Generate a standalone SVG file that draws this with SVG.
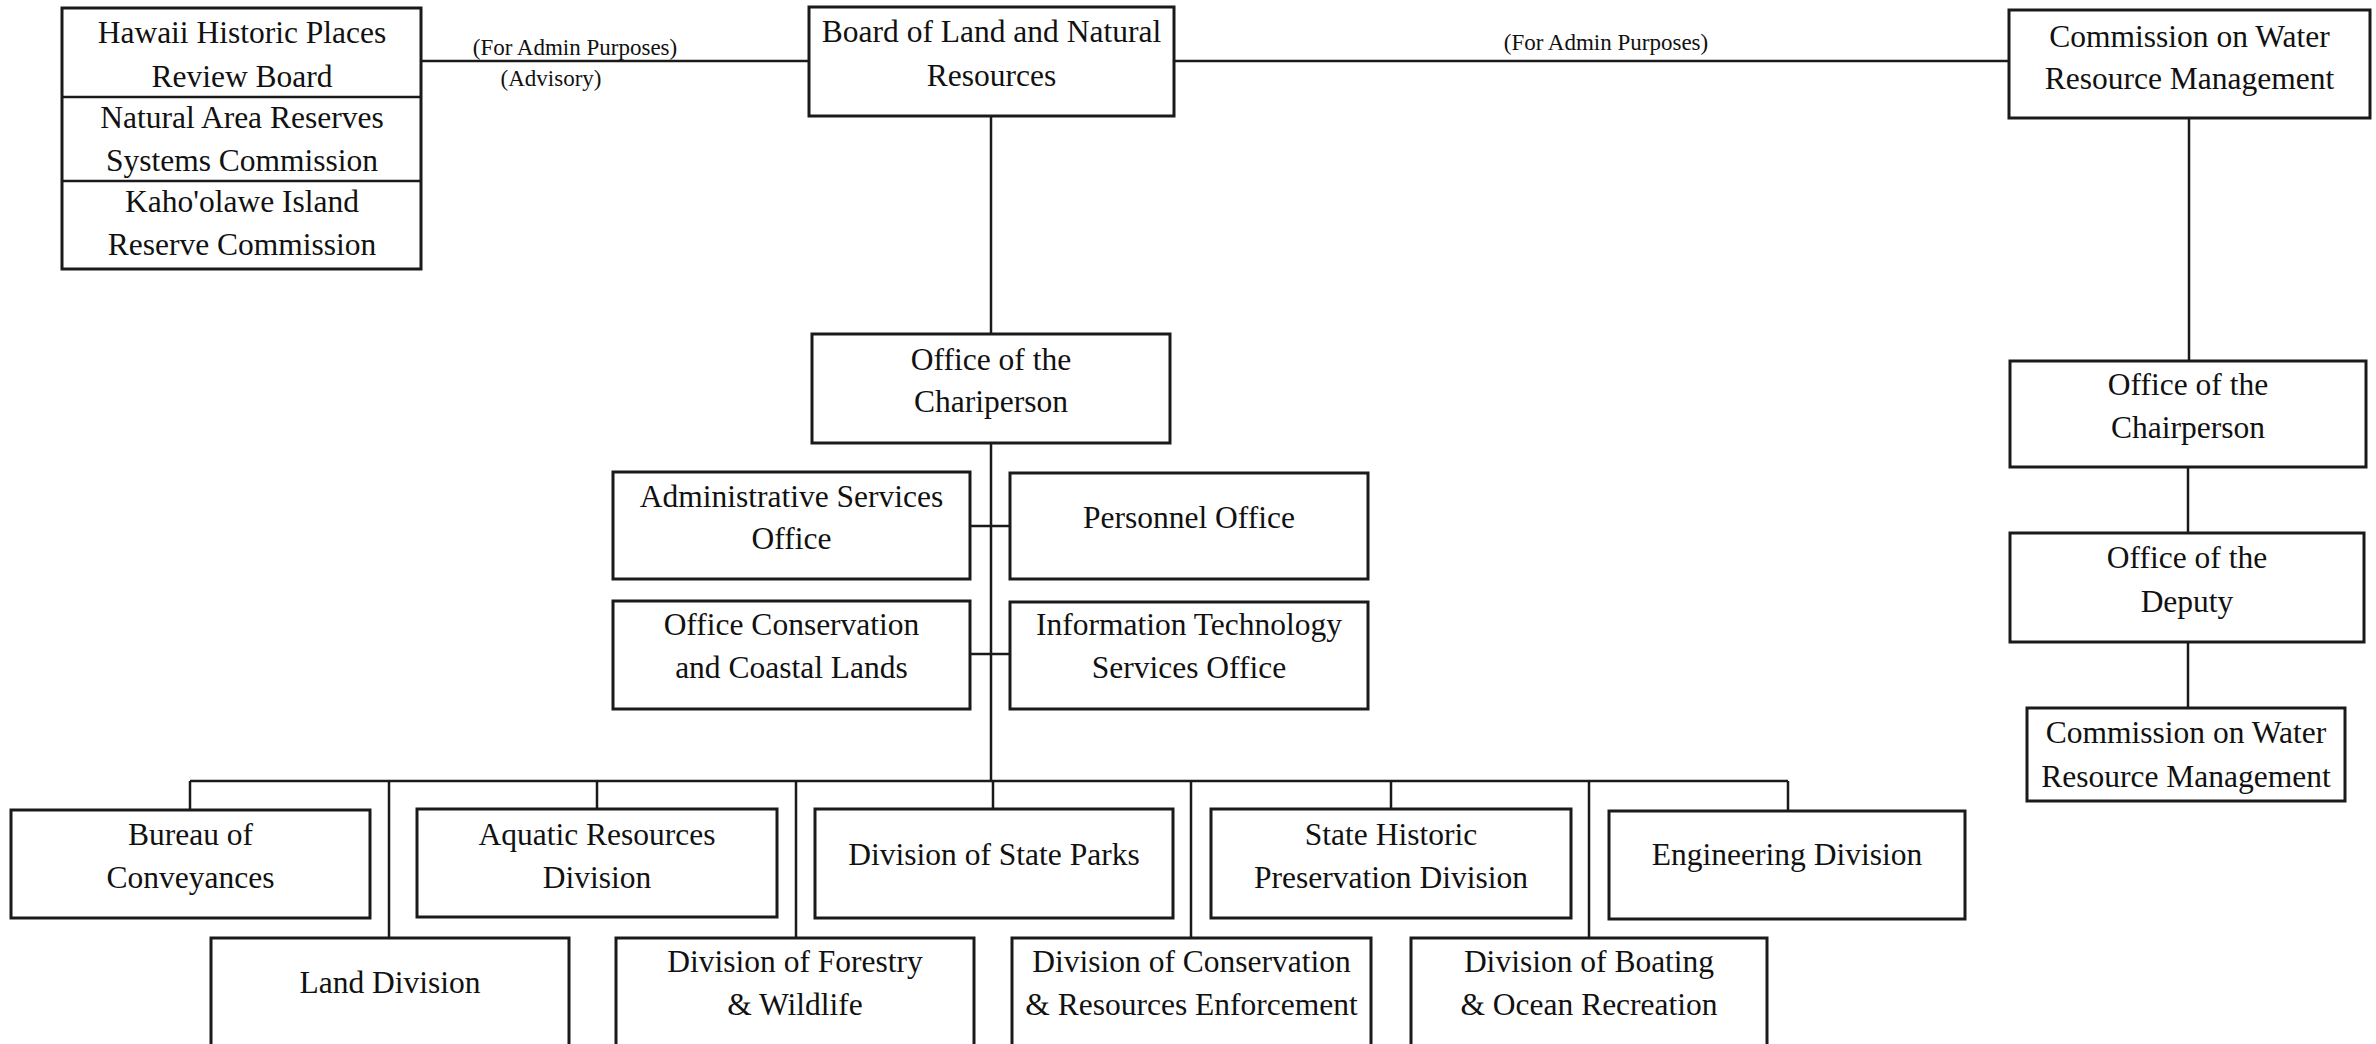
<svg xmlns="http://www.w3.org/2000/svg" width="2376" height="1044" viewBox="0 0 2376 1044">
<style>
.box{fill:#fff;stroke:#1a1a1a;stroke-width:3}
.ln{fill:none;stroke:#1a1a1a;stroke-width:2.5}
text{font-family:"Liberation Serif","Times New Roman",serif;fill:#111;text-anchor:middle}
.t{font-size:31.5px}
.s{font-size:23px}
</style>
<rect width="2376" height="1044" fill="#fff"/>
<g id="connectors">
<path class="ln" d="M421 61H809"/>
<path class="ln" d="M1174 61H2009"/>
<path class="ln" d="M991 116V334"/>
<path class="ln" d="M991 443V781"/>
<path class="ln" d="M970 526H1010"/>
<path class="ln" d="M970 654H1010"/>
<path class="ln" d="M190 781H1788"/>
<path class="ln" d="M190 781V810M389 781V938M597 781V809M796 781V938M993 781V809M1191 781V938M1391 781V809M1589 781V938M1788 781V811"/>
<path class="ln" d="M2189 118V361"/>
<path class="ln" d="M2188 467V533"/>
<path class="ln" d="M2188 642V708"/>
<text class="s" x="575" y="55">(For Admin Purposes)</text>
<text class="s" x="551" y="86">(Advisory)</text>
<text class="s" x="1606" y="50">(For Admin Purposes)</text>
</g>
<g id="advisory-boards">
<rect class="box" x="62" y="8" width="359" height="261"/>
<path class="ln" d="M62 97H421M62 181H421"/>
<text class="t" x="242" y="43">Hawaii Historic Places</text>
<text class="t" x="242" y="87">Review Board</text>
<text class="t" x="242" y="128">Natural Area Reserves</text>
<text class="t" x="242" y="171">Systems Commission</text>
<text class="t" x="242" y="212">Kaho'olawe Island</text>
<text class="t" x="242" y="255">Reserve Commission</text>
</g>
<g id="board">
<rect class="box" x="809" y="7" width="365" height="109"/>
<text class="t" x="991.5" y="42">Board of Land and Natural</text>
<text class="t" x="991.5" y="86">Resources</text>
</g>
<g id="cwrm-top">
<rect class="box" x="2009" y="10" width="361" height="108"/>
<text class="t" x="2189.5" y="47">Commission on Water</text>
<text class="t" x="2189.5" y="89">Resource Management</text>
</g>
<g id="office-chair-left">
<rect class="box" x="812" y="334" width="358" height="109"/>
<text class="t" x="991" y="370">Office of the</text>
<text class="t" x="991" y="412">Chariperson</text>
</g>
<g id="admin-services">
<rect class="box" x="613" y="472" width="357" height="107"/>
<text class="t" x="791.5" y="507">Administrative Services</text>
<text class="t" x="791.5" y="549">Office</text>
</g>
<g id="personnel">
<rect class="box" x="1010" y="473" width="358" height="106"/>
<text class="t" x="1189" y="528">Personnel Office</text>
</g>
<g id="occl">
<rect class="box" x="613" y="601" width="357" height="108"/>
<text class="t" x="791.5" y="635">Office Conservation</text>
<text class="t" x="791.5" y="678">and Coastal Lands</text>
</g>
<g id="it-services">
<rect class="box" x="1010" y="602" width="358" height="107"/>
<text class="t" x="1189" y="635">Information Technology</text>
<text class="t" x="1189" y="678">Services Office</text>
</g>
<g id="office-chair-right">
<rect class="box" x="2010" y="361" width="356" height="106"/>
<text class="t" x="2188" y="395">Office of the</text>
<text class="t" x="2188" y="438">Chairperson</text>
</g>
<g id="office-deputy">
<rect class="box" x="2010" y="533" width="354" height="109"/>
<text class="t" x="2187" y="568">Office of the</text>
<text class="t" x="2187" y="612">Deputy</text>
</g>
<g id="cwrm-bottom">
<rect class="box" x="2027" y="708" width="318" height="93"/>
<text class="t" x="2186" y="743">Commission on Water</text>
<text class="t" x="2186" y="787">Resource Management</text>
</g>
<g id="bureau-conveyances">
<rect class="box" x="11" y="810" width="359" height="108"/>
<text class="t" x="190.5" y="845">Bureau of</text>
<text class="t" x="190.5" y="888">Conveyances</text>
</g>
<g id="aquatic">
<rect class="box" x="417" y="809" width="360" height="108"/>
<text class="t" x="597" y="845">Aquatic Resources</text>
<text class="t" x="597" y="888">Division</text>
</g>
<g id="state-parks">
<rect class="box" x="815" y="809" width="358" height="109"/>
<text class="t" x="994" y="865">Division of State Parks</text>
</g>
<g id="historic-preservation">
<rect class="box" x="1211" y="809" width="360" height="109"/>
<text class="t" x="1391" y="845">State Historic</text>
<text class="t" x="1391" y="888">Preservation Division</text>
</g>
<g id="engineering">
<rect class="box" x="1609" y="811" width="356" height="108"/>
<text class="t" x="1787" y="865">Engineering Division</text>
</g>
<g id="land">
<rect class="box" x="211" y="938" width="358" height="112"/>
<text class="t" x="390" y="993">Land Division</text>
</g>
<g id="forestry">
<rect class="box" x="616" y="938" width="358" height="112"/>
<text class="t" x="795" y="972">Division of Forestry</text>
<text class="t" x="795" y="1015">&amp; Wildlife</text>
</g>
<g id="conservation-enforcement">
<rect class="box" x="1012" y="938" width="359" height="112"/>
<text class="t" x="1191.5" y="972">Division of Conservation</text>
<text class="t" x="1191.5" y="1015">&amp; Resources Enforcement</text>
</g>
<g id="boating">
<rect class="box" x="1411" y="938" width="356" height="112"/>
<text class="t" x="1589" y="972">Division of Boating</text>
<text class="t" x="1589" y="1015">&amp; Ocean Recreation</text>
</g>
</svg>
